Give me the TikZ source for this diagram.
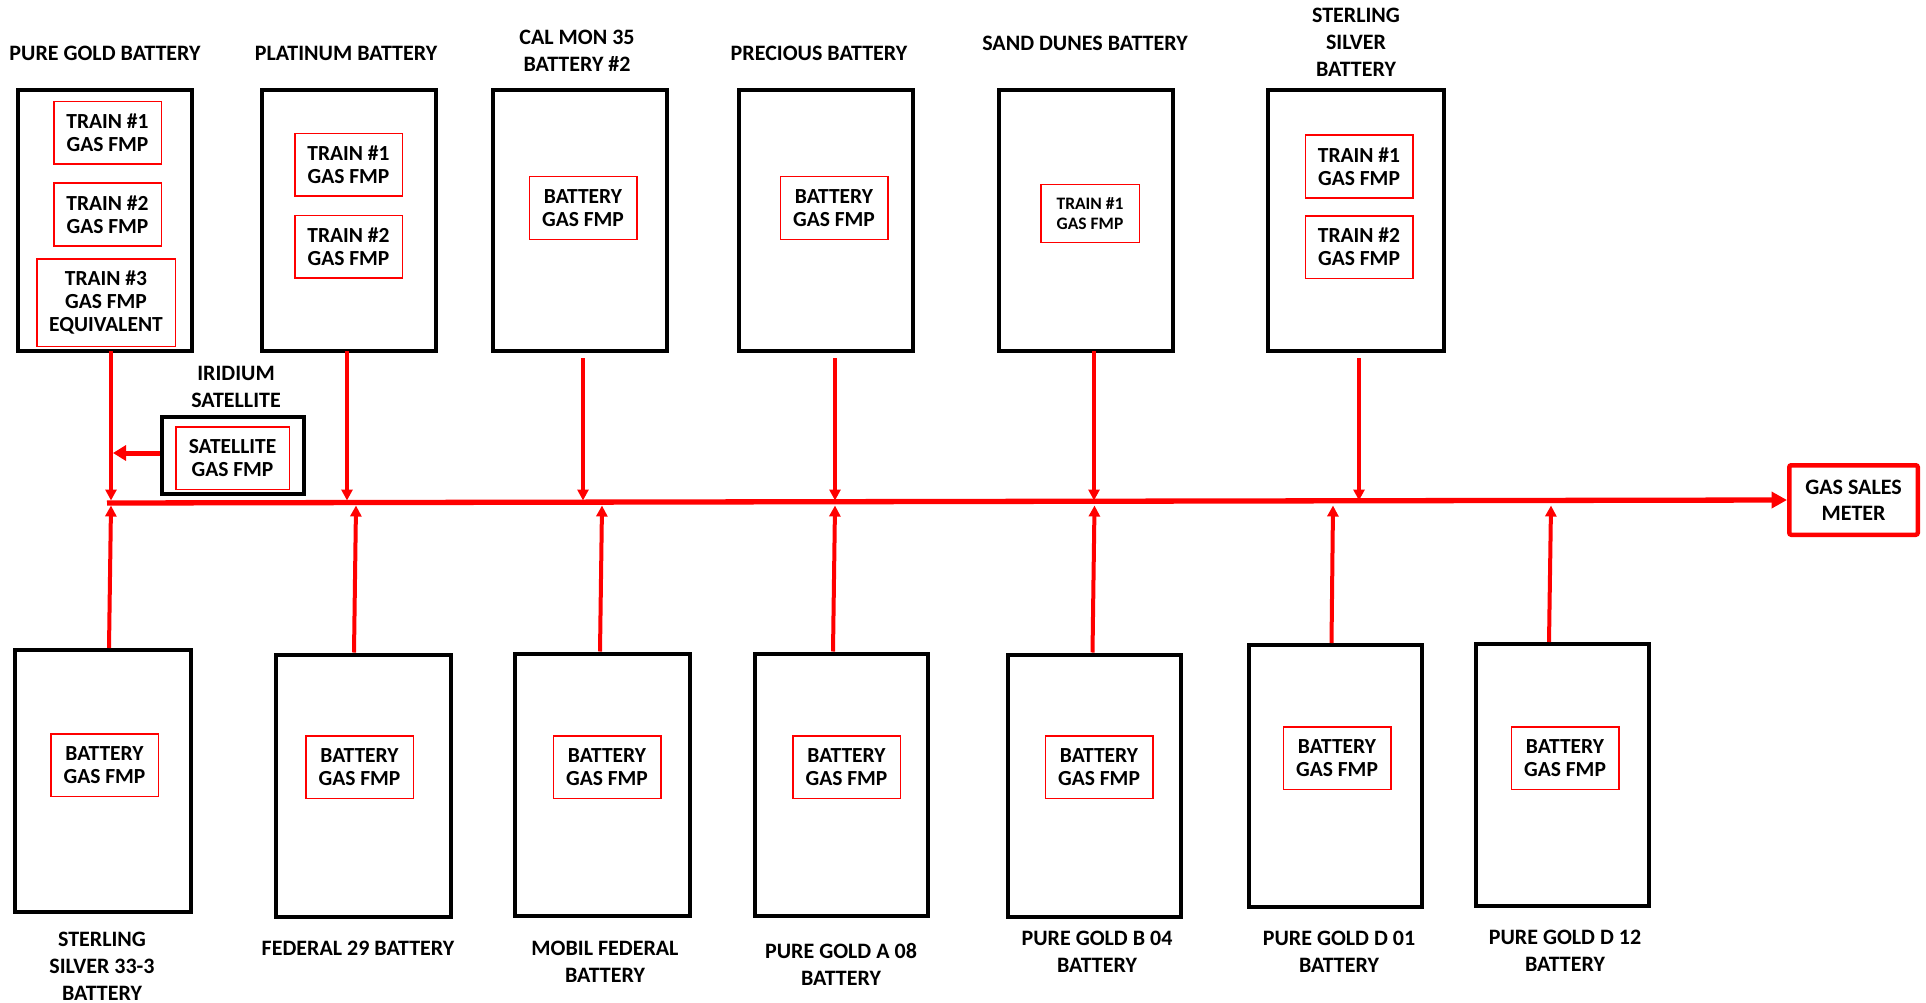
\documentclass[tikz,border=0pt]{standalone}
\usepackage{fontspec}
\setmainfont{Carlito}
\usetikzlibrary{arrows.meta}
\newcommand\mylblfont{\fontsize{22}{27}\selectfont\bfseries}
\newcommand\myfmpfont{\fontsize{21.5}{23}\selectfont\bfseries}
\newcommand\mysmallfmpfont{\fontsize{17.5}{20}\selectfont\bfseries}
\definecolor{pipe}{RGB}{255,0,0}
\begin{document}
\begin{tikzpicture}[x=1pt,y=-1pt,
  battbox/.style={draw=black, line width=4pt, inner sep=0pt, minimum width=174pt, minimum height=261pt},
  lowbox/.style={draw=black, line width=4pt, inner sep=0pt, minimum width=175pt, minimum height=262pt},
  fmp/.style={draw=pipe, line width=1.5pt, align=center, font=\myfmpfont, inner sep=0pt, minimum width=107.5pt, minimum height=62.5pt},
  lbl/.style={align=center, font=\mylblfont, inner sep=0pt},
  drop/.style={draw=pipe, line width=4pt, -{Triangle[width=11pt,length=11pt]}},
  rise/.style={draw=pipe, line width=4pt, -{Triangle[width=11pt,length=11pt]}},
  mainpipe/.style={draw=pipe, line width=5.3pt, -{Triangle[width=16pt,length=15.5pt]}},
  satpipe/.style={draw=pipe, line width=5pt, -{Triangle[width=15pt,length=13pt]}}
]
\useasboundingbox (0,0) rectangle (1926,1003);
\fill[white] (0,0) rectangle (1926,1003);

% ---------- top batteries ----------
\node[battbox] (pg) at (105,220.5) {};
\node[lbl] (pgl) at (105,53) {PURE GOLD BATTERY};
\node[fmp] (pg1) at (107.5,133) {TRAIN \#1\\GAS FMP};
\node[fmp] (pg2) at (107.5,214.5) {TRAIN \#2\\GAS FMP};
\node[fmp, minimum width=138.5pt, minimum height=87.5pt] (pg3) at (106,302.5) {TRAIN \#3\\GAS FMP\\EQUIVALENT};

\node[battbox] (pl) at (349,220.5) {};
\node[lbl] (pll) at (346,53) {PLATINUM BATTERY};
\node[fmp] (pl1) at (348.5,165) {TRAIN \#1\\GAS FMP};
\node[fmp] (pl2) at (348.5,246.5) {TRAIN \#2\\GAS FMP};

\node[battbox] (cm) at (580,220.5) {};
\node[lbl] (cml) at (577,50.5) {CAL MON 35\\BATTERY \#2};
\node[fmp] (cm1) at (583,208) {BATTERY\\GAS FMP};

\node[battbox] (pr) at (826,220.5) {};
\node[lbl] (prl) at (819,53) {PRECIOUS BATTERY};
\node[fmp] (pr1) at (834,208) {BATTERY\\GAS FMP};

\node[battbox] (sd) at (1086,220.5) {};
\node[lbl] (sdl) at (1085,43) {SAND DUNES BATTERY};
\node[fmp, font=\mysmallfmpfont, minimum width=98.5pt, minimum height=57.5pt] (sd1) at (1090,213.5) {TRAIN \#1\\GAS FMP};

\node[battbox, minimum width=176pt] (ss) at (1356,220.5) {};
\node[lbl] (ssl) at (1356,42) {STERLING\\SILVER\\BATTERY};
\node[fmp] (ss1) at (1359,166.5) {TRAIN \#1\\GAS FMP};
\node[fmp] (ss2) at (1359,247) {TRAIN \#2\\GAS FMP};

% ---------- satellite ----------
\node[draw=black, line width=4pt, inner sep=0pt, minimum width=142pt, minimum height=77pt] (sat) at (233,455.5) {};
\node[lbl] (satl) at (236,386.5) {IRIDIUM\\SATELLITE};
\node[fmp, minimum width=113.5pt] (sat1) at (232.5,458) {SATELLITE\\GAS FMP};

% ---------- bottom batteries ----------
\node[lowbox, minimum width=176pt] (b1) at (103,781) {};
\node[fmp] (b1f) at (104.5,765) {BATTERY\\GAS FMP};
\node[lbl] (b1l) at (102,966) {STERLING\\SILVER 33-3\\BATTERY};

\node[lowbox] (b2) at (363.5,785.5) {};
\node[fmp] (b2f) at (359.5,767) {BATTERY\\GAS FMP};
\node[lbl] (b2l) at (358,948) {FEDERAL 29 BATTERY};

\node[lowbox] (b3) at (602.5,784.5) {};
\node[fmp] (b3f) at (607,767) {BATTERY\\GAS FMP};
\node[lbl] (b3l) at (605,962) {MOBIL FEDERAL\\BATTERY};

\node[lowbox, minimum width=173pt] (b4) at (841.5,784.5) {};
\node[fmp] (b4f) at (846.5,767) {BATTERY\\GAS FMP};
\node[lbl] (b4l) at (841,964) {PURE GOLD A 08\\BATTERY};

\node[lowbox, minimum width=173pt] (b5) at (1094.5,785.5) {};
\node[fmp] (b5f) at (1099,767) {BATTERY\\GAS FMP};
\node[lbl] (b5l) at (1097,951.5) {PURE GOLD B 04\\BATTERY};

\node[lowbox, minimum width=173pt] (b6) at (1335.5,776) {};
\node[fmp] (b6f) at (1337,758) {BATTERY\\GAS FMP};
\node[lbl] (b6l) at (1339,952) {PURE GOLD D 01\\BATTERY};

\node[lowbox, minimum width=173pt] (b7) at (1562.5,775) {};
\node[fmp] (b7f) at (1565,758) {BATTERY\\GAS FMP};
\node[lbl] (b7l) at (1565,951) {PURE GOLD D 12\\BATTERY};

% ---------- gas sales meter ----------
\node[draw=pipe, line width=4.5pt, rounded corners=2pt, inner sep=0pt, minimum width=128.5pt, minimum height=69.5pt, align=center, font=\fontsize{22}{26}\selectfont\bfseries] (gas) at (1853.5,500) {GAS SALES\\METER};

% ---------- junction coordinates ----------
\coordinate (mstart) at (107,503);
\coordinate (j1) at (111,500.5);
\coordinate (j2) at (347,500.5);
\coordinate (j3) at (583,500.5);
\coordinate (j4) at (835,500.5);
\coordinate (j5) at (1094,500.5);
\coordinate (j6) at (1359,500.5);
\coordinate (u1) at (111,505.5);
\coordinate (u2) at (356,505.5);
\coordinate (u3) at (602,505.5);
\coordinate (u4) at (835,505.5);
\coordinate (u5) at (1094.5,505.5);
\coordinate (u6) at (1333,505.5);
\coordinate (u7) at (1551,505.5);
\coordinate (d1) at (109,0);
\coordinate (d2) at (354,0);
\coordinate (d3) at (600,0);
\coordinate (d4) at (833,0);
\coordinate (d5) at (1092.5,0);
\coordinate (d6) at (1331.5,0);
\coordinate (d7) at (1549,0);
\coordinate (satend) at (113,453);

% ---------- pipes ----------
\draw[mainpipe] (mstart) -- (gas.west);
\draw[drop, shorten <=-2pt] (pg.south -| j1) -- (j1);
\draw[drop, shorten <=-2pt] (pl.south -| j2) -- (j2);
\draw[drop, shorten <=5pt] (cm.south -| j3) -- (j3);
\draw[drop, shorten <=5pt] (pr.south -| j4) -- (j4);
\draw[drop, shorten <=-2pt] (sd.south -| j5) -- (j5);
\draw[drop, shorten <=5pt] (ss.south -| j6) -- (j6);

\draw[rise] (b1.north -| d1) -- (u1);
\draw[rise] (b2.north -| d2) -- (u2);
\draw[rise] (b3.north -| d3) -- (u3);
\draw[rise] (b4.north -| d4) -- (u4);
\draw[rise] (b5.north -| d5) -- (u5);
\draw[rise] (b6.north -| d6) -- (u6);
\draw[rise] (b7.north -| d7) -- (u7);

\draw[satpipe] (sat.west |- satend) -- (satend);
\end{tikzpicture}
\end{document}
